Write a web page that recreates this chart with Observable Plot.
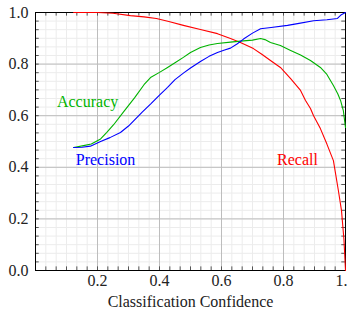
<!DOCTYPE html>
<html>
<head>
<meta charset="utf-8">
<script src="https://cdn.jsdelivr.net/npm/d3@7"></script>
<script src="https://cdn.jsdelivr.net/npm/@observablehq/plot@0.6"></script>
<style>
  body { margin: 0; background: #fff; }
  #chart svg, #chart svg text { font-family: "Liberation Serif", "Times New Roman", Times, "DejaVu Serif", serif !important; }
</style>
</head>
<body>
<div id="chart"></div>
<script>
const precisionX = [0.123,0.15,0.177,0.21,0.24,0.274,0.30,0.345,0.371,0.40,0.426,0.45,0.477,0.50,0.532,0.56,0.587,0.61,0.629,0.65,0.671,0.70,0.726,0.76,0.813,0.85,0.897,0.94,0.974,0.985,1.0];
const precisionY = [0.477,0.478,0.482,0.50,0.515,0.535,0.56,0.615,0.645,0.68,0.71,0.74,0.765,0.785,0.81,0.83,0.845,0.855,0.862,0.878,0.897,0.92,0.937,0.942,0.95,0.958,0.968,0.972,0.977,0.99,1.0];

const recallX = [0.123,0.2,0.25,0.306,0.35,0.39,0.43,0.477,0.532,0.587,0.629,0.661,0.703,0.73,0.758,0.79,0.823,0.855,0.871,0.887,0.897,0.919,0.94,0.961,0.977,0.987,0.995,1.0];
const recallY = [1.0,1.0,0.997,0.988,0.983,0.977,0.965,0.95,0.934,0.918,0.899,0.884,0.86,0.838,0.814,0.787,0.744,0.698,0.659,0.628,0.60,0.55,0.49,0.426,0.31,0.233,0.12,0.0];

const accuracyX = [0.123,0.155,0.18,0.21,0.23,0.252,0.284,0.32,0.35,0.371,0.40,0.426,0.45,0.477,0.50,0.532,0.56,0.587,0.629,0.661,0.70,0.726,0.74,0.758,0.79,0.823,0.855,0.887,0.919,0.94,0.961,0.975,0.984,0.993,1.0];
const accuracyY = [0.477,0.484,0.49,0.51,0.535,0.565,0.615,0.67,0.72,0.748,0.768,0.787,0.805,0.826,0.845,0.864,0.874,0.88,0.885,0.889,0.893,0.899,0.895,0.884,0.872,0.853,0.835,0.814,0.787,0.76,0.717,0.685,0.659,0.62,0.554];

const xTicks = [0.2, 0.4, 0.6, 0.8, 1];
const yTicks = [0, 0.2, 0.4, 0.6, 0.8, 1];
const minorTicks = d3.range(0, 31).map(i => i / 30);
const majorGrid = [0.2, 0.4, 0.6, 0.8];

const labels = [
  {x: 0.168, y: 0.655, text: "Accuracy", color: "#00b300"},
  {x: 0.226, y: 0.43, text: "Precision", color: "#0000ff"},
  {x: 0.845, y: 0.43, text: "Recall", color: "#ff0000"}
];

const toRows = (xs, ys) => xs.map((x, i) => ({x, y: ys[i]}));
const precision = toRows(precisionX, precisionY);
const recall = toRows(recallX, recallY);
const accuracy = toRows(accuracyX, accuracyY);

const serif = "Liberation Serif";
const chart = Plot.plot({
  width: 347,
  height: 314,
  marginLeft: 35,
  marginRight: 2,
  marginTop: 12,
  marginBottom: 44,
  style: {background: "#fff", overflow: "visible"},
  x: {domain: [0, 1]},
  y: {domain: [0, 1]},
  marks: [
    Plot.ruleX(minorTicks, {stroke: "#ececec", strokeWidth: 1}),
    Plot.ruleY(minorTicks, {stroke: "#ececec", strokeWidth: 1}),
    Plot.ruleX(majorGrid, {stroke: "#bdbdbd", strokeWidth: 1}),
    Plot.ruleY(majorGrid, {stroke: "#bdbdbd", strokeWidth: 1}),
    Plot.ruleX(minorTicks, {y1: 0, y2: 0.014, stroke: "#555"}),
    Plot.ruleX(minorTicks, {y1: 1, y2: 0.986, stroke: "#555"}),
    Plot.ruleY(minorTicks, {x1: 0, x2: 0.012, stroke: "#555"}),
    Plot.ruleY(minorTicks, {x1: 1, x2: 0.988, stroke: "#555"}),
    Plot.frame({stroke: "#000", strokeWidth: 1}),
    Plot.axisX({ticks: xTicks, tickSize: 0, tickPadding: 4, label: null, fill: "#222", fontSize: 16, fontFamily: serif}),
    Plot.axisY({ticks: yTicks, tickSize: 0, tickPadding: 7, label: null, fill: "#222", fontSize: 16, fontFamily: serif}),
    Plot.text(["Classification Confidence"], {frameAnchor: "bottom", dy: 36, fontSize: 16, fill: "#222", fontFamily: serif}),
    Plot.line(recall, {x: "x", y: "y", stroke: "#ff0000", strokeWidth: 1.1}),
    Plot.line(accuracy, {x: "x", y: "y", stroke: "#00b300", strokeWidth: 1.1}),
    Plot.line(precision, {x: "x", y: "y", stroke: "#0000ff", strokeWidth: 1.1}),
    Plot.text(labels, {x: "x", y: "y", text: "text", fill: "color", fontSize: 16, fontFamily: serif})
  ]
});
document.getElementById("chart").appendChild(chart);
</script>
</body>
</html>
